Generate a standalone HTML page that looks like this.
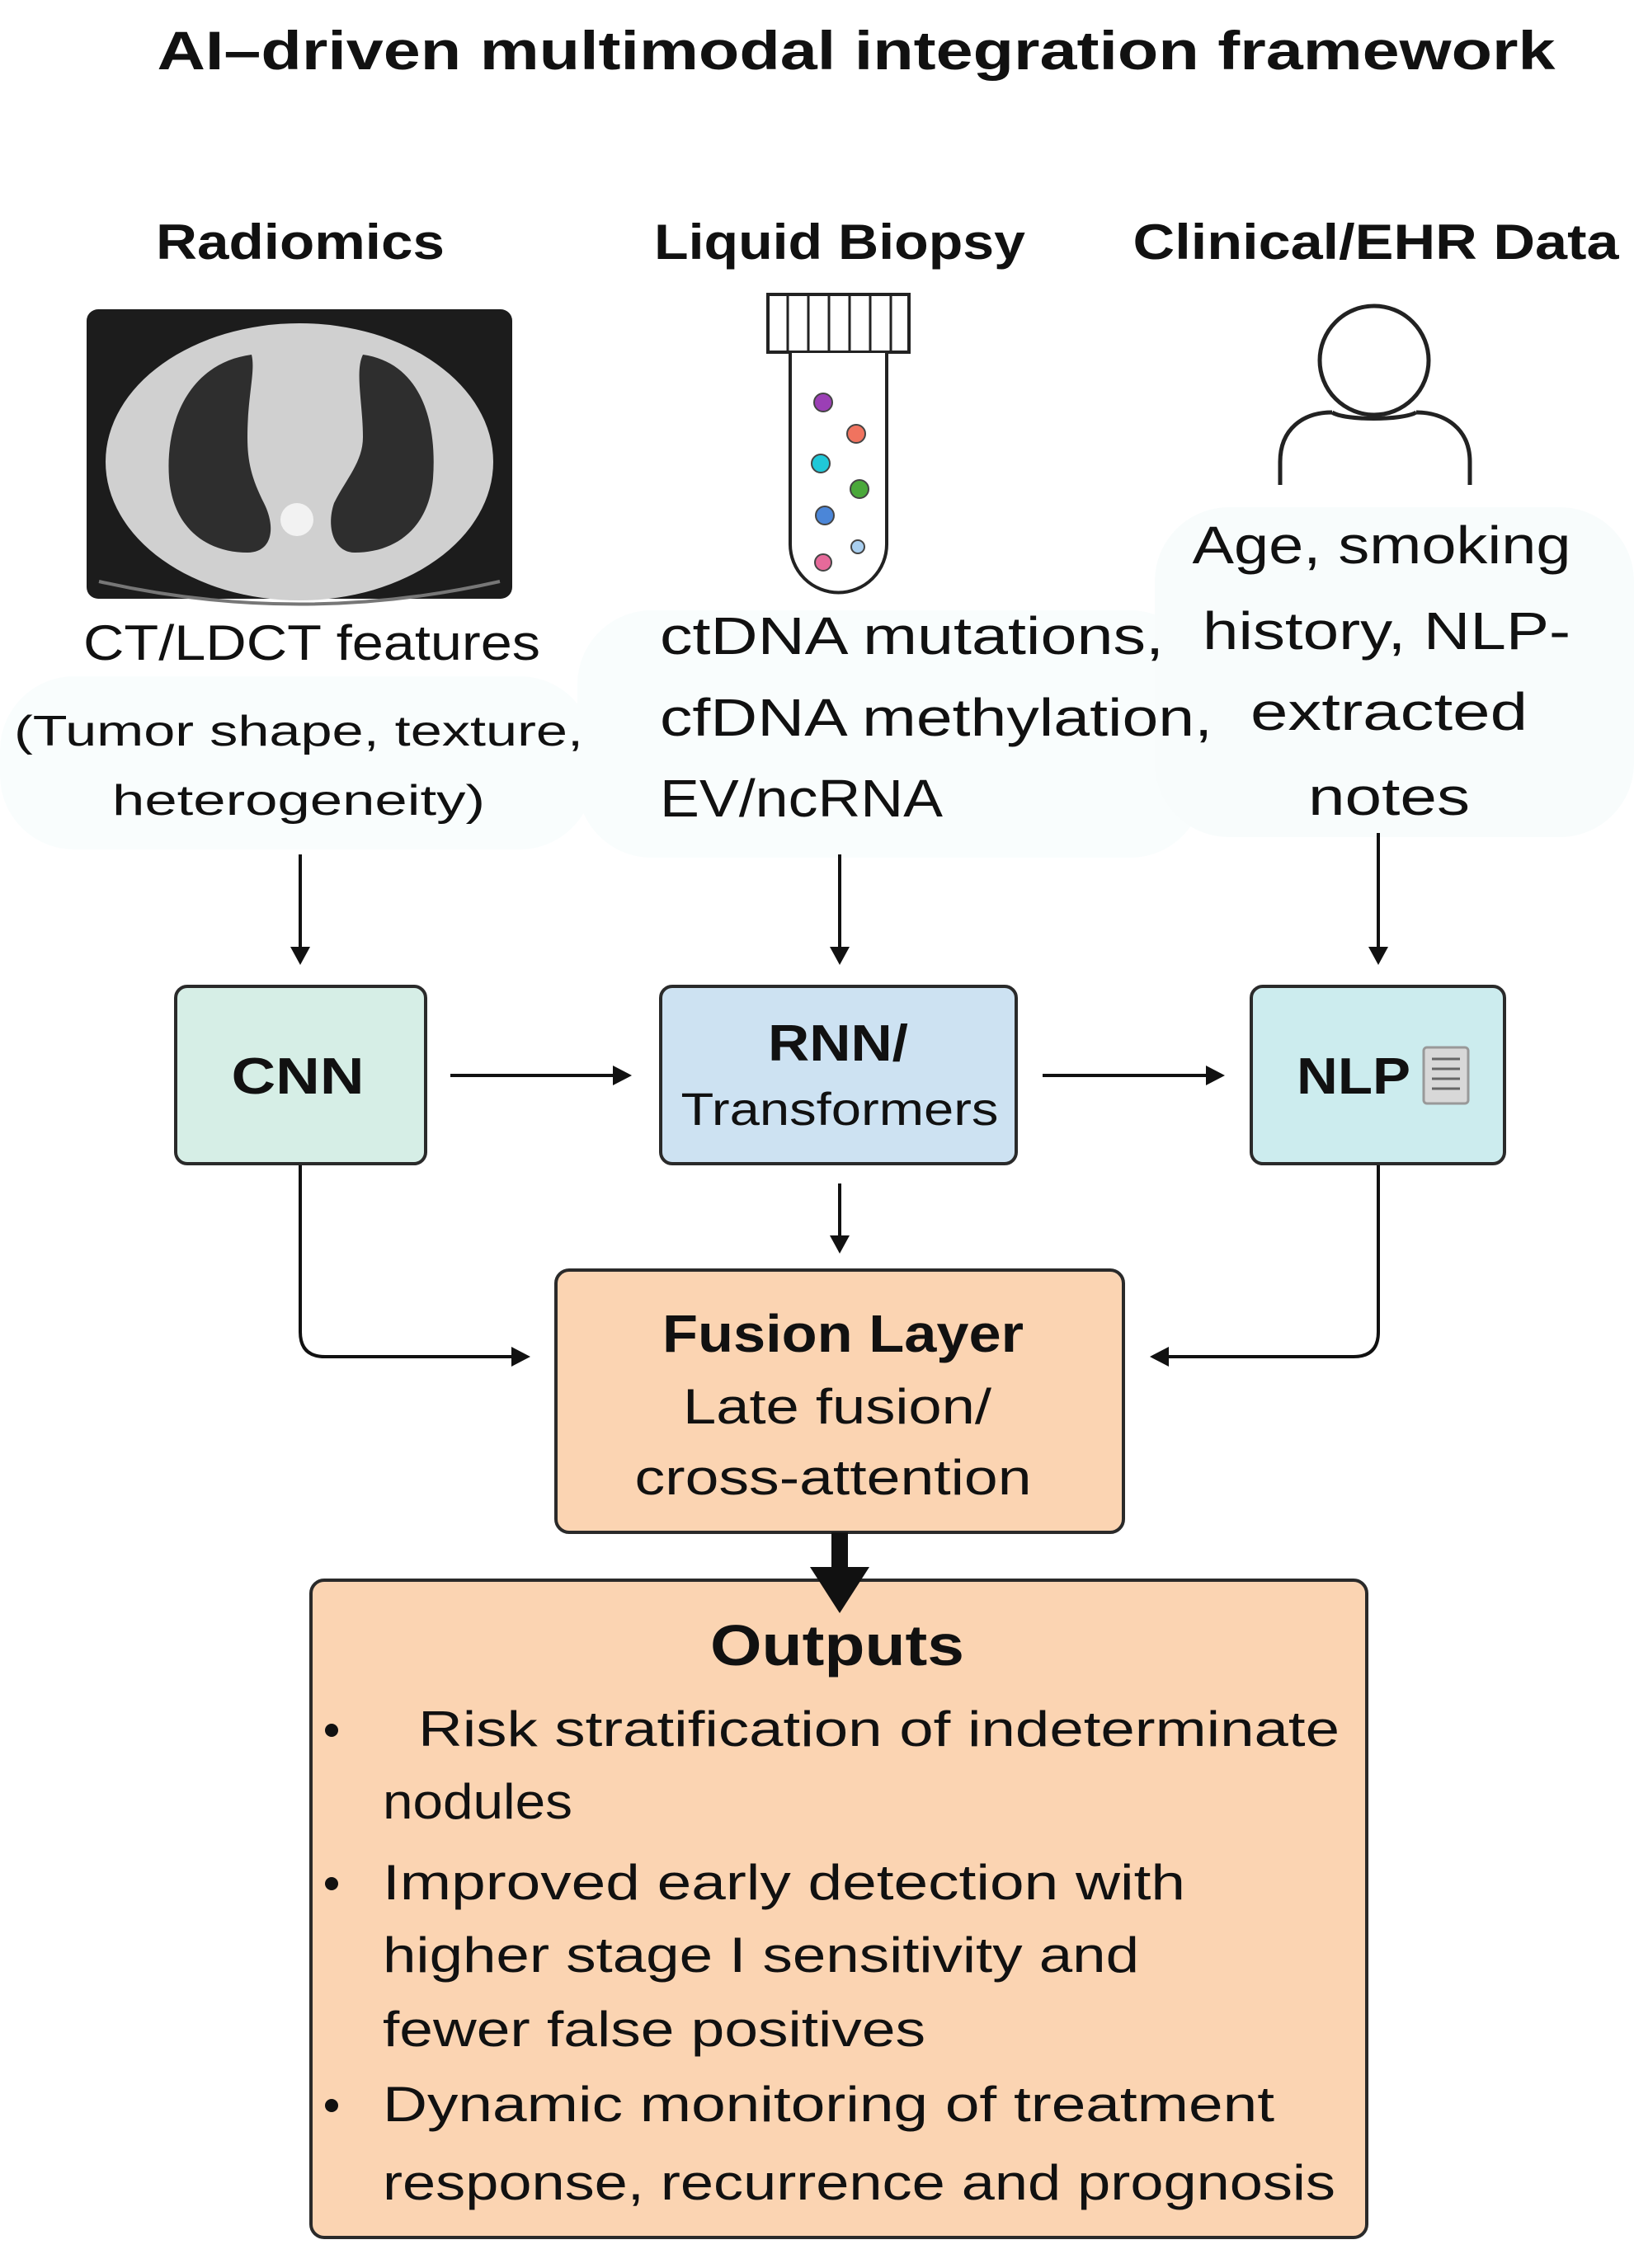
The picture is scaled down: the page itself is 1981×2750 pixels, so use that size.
<!DOCTYPE html>
<html><head><meta charset="utf-8"><style>
html,body{margin:0;padding:0;background:#fff;}
svg{display:block;}
text{font-family:"Liberation Sans",sans-serif;fill:#111;}
</style></head><body>
<svg width="1981" height="2750" viewBox="0 0 1981 2750" xmlns="http://www.w3.org/2000/svg">
<rect width="1981" height="2750" fill="#fff"/>
<!-- faint blobs -->
<rect x="0" y="820" width="720" height="210" rx="90" fill="#f9fdfd"/>
<rect x="700" y="740" width="760" height="300" rx="90" fill="#f9fdfd"/>
<rect x="1400" y="615" width="581" height="400" rx="90" fill="#f8fcfc"/>

<text x="1038" y="84" font-size="66" font-weight="bold" text-anchor="middle" textLength="1695" lengthAdjust="spacingAndGlyphs">AI–driven multimodal integration framework</text>

<text x="364" y="314" font-size="60" font-weight="bold" text-anchor="middle" textLength="350" lengthAdjust="spacingAndGlyphs">Radiomics</text>
<text x="1018" y="314" font-size="60" font-weight="bold" text-anchor="middle" textLength="450" lengthAdjust="spacingAndGlyphs">Liquid Biopsy</text>
<text x="1668" y="314" font-size="60" font-weight="bold" text-anchor="middle" textLength="589" lengthAdjust="spacingAndGlyphs">Clinical/EHR Data</text>

<!-- CT image -->
<rect x="105" y="375" width="516" height="351" rx="14" fill="#1c1c1c"/>
<ellipse cx="363" cy="560" rx="235" ry="168" fill="#d0d0d0"/>
<path d="M305 430 C230 440 200 510 205 580 C210 640 250 670 300 670 C330 670 335 640 320 610 C305 580 300 560 300 530 C300 480 310 450 305 430 Z" fill="#2e2e2e"/>
<path d="M440 430 C510 440 530 510 525 580 C520 640 480 670 430 670 C405 670 395 640 405 610 C420 580 440 560 440 530 C440 490 430 450 440 430 Z" fill="#2e2e2e"/>
<circle cx="360" cy="630" r="20" fill="#f2f2f2"/>
<path d="M120 705 Q363 760 606 705" stroke="#777" stroke-width="4" fill="none"/>

<!-- tube -->
<rect x="931" y="357" width="171" height="70" fill="#fff" stroke="#222" stroke-width="4"/>
<g stroke="#222" stroke-width="3">
<line x1="955" y1="357" x2="955" y2="427"/><line x1="980" y1="357" x2="980" y2="427"/><line x1="1005" y1="357" x2="1005" y2="427"/><line x1="1030" y1="357" x2="1030" y2="427"/><line x1="1055" y1="357" x2="1055" y2="427"/><line x1="1080" y1="357" x2="1080" y2="427"/>
</g>
<path d="M958 428 L958 660 A58 58 0 0 0 1075 660 L1075 428" fill="#fff" stroke="#222" stroke-width="4"/>
<g stroke="#444" stroke-width="2">
<circle cx="998" cy="488" r="11" fill="#9b3fb5"/>
<circle cx="1038" cy="526" r="11" fill="#f0735f"/>
<circle cx="995" cy="562" r="11" fill="#20c8d8"/>
<circle cx="1042" cy="593" r="11" fill="#4aa83a"/>
<circle cx="1000" cy="625" r="11" fill="#4b86d8"/>
<circle cx="1040" cy="663" r="8" fill="#a9cff0"/>
<circle cx="998" cy="682" r="10" fill="#e66a9a"/>
</g>

<!-- person -->
<circle cx="1666" cy="437" r="66" fill="none" stroke="#222" stroke-width="5"/>
<path d="M1552 588 L1552 560 C1552 520 1580 500 1615 500 M1717 500 C1752 500 1782 520 1782 560 L1782 588" fill="none" stroke="#222" stroke-width="5"/>
<path d="M1615 500 C1630 510 1700 510 1717 500" fill="none" stroke="#222" stroke-width="5"/>

<!-- input texts -->
<text x="378" y="800" font-size="60" text-anchor="middle" textLength="554" lengthAdjust="spacingAndGlyphs">CT/LDCT features</text>
<text x="362" y="904" font-size="52" text-anchor="middle" textLength="690" lengthAdjust="spacingAndGlyphs">(Tumor shape, texture,</text>
<text x="362" y="988" font-size="52" text-anchor="middle" textLength="452" lengthAdjust="spacingAndGlyphs">heterogeneity)</text>

<text x="800" y="793" font-size="64" textLength="611" lengthAdjust="spacingAndGlyphs">ctDNA mutations,</text>
<text x="800" y="892" font-size="64" textLength="670" lengthAdjust="spacingAndGlyphs">cfDNA methylation,</text>
<text x="800" y="990" font-size="64" textLength="343" lengthAdjust="spacingAndGlyphs">EV/ncRNA</text>

<text x="1675" y="683" font-size="64" text-anchor="middle" textLength="459" lengthAdjust="spacingAndGlyphs">Age, smoking</text>
<text x="1681" y="787" font-size="64" text-anchor="middle" textLength="446" lengthAdjust="spacingAndGlyphs">history, NLP-</text>
<text x="1684" y="885" font-size="64" text-anchor="middle" textLength="336" lengthAdjust="spacingAndGlyphs">extracted</text>
<text x="1684" y="988" font-size="64" text-anchor="middle" textLength="196" lengthAdjust="spacingAndGlyphs">notes</text>

<!-- arrows -->
<g stroke="#111" stroke-width="4" fill="none">
<line x1="364" y1="1036" x2="364" y2="1150"/>
<line x1="1018" y1="1036" x2="1018" y2="1150"/>
<line x1="1671" y1="1010" x2="1671" y2="1150"/>
<line x1="546" y1="1304" x2="745" y2="1304"/>
<line x1="1264" y1="1304" x2="1464" y2="1304"/>
<line x1="1018" y1="1435" x2="1018" y2="1500"/>
<path d="M364 1411 L364 1615 Q364 1645 394 1645 L622 1645"/>
<path d="M1671 1411 L1671 1615 Q1671 1645 1641 1645 L1415 1645"/>
</g>
<g fill="#111">
<polygon points="352,1148 376,1148 364,1170"/>
<polygon points="1006,1148 1030,1148 1018,1170"/>
<polygon points="1659,1148 1683,1148 1671,1170"/>
<polygon points="743,1292 743,1316 766,1304"/>
<polygon points="1462,1292 1462,1316 1485,1304"/>
<polygon points="1006,1498 1030,1498 1018,1520"/>
<polygon points="620,1633 620,1657 643,1645"/>
<polygon points="1417,1633 1417,1657 1394,1645"/>
</g>

<!-- model boxes -->
<rect x="213" y="1196" width="303" height="215" rx="14" fill="#d6eee6" stroke="#2a2a2a" stroke-width="4"/>
<rect x="801" y="1196" width="431" height="215" rx="14" fill="#cde2f2" stroke="#2a2a2a" stroke-width="4"/>
<rect x="1517" y="1196" width="307" height="215" rx="14" fill="#ccecee" stroke="#2a2a2a" stroke-width="4"/>
<text x="361" y="1326" font-size="62" font-weight="bold" text-anchor="middle" textLength="161" lengthAdjust="spacingAndGlyphs">CNN</text>
<text x="1016" y="1286" font-size="62" font-weight="bold" text-anchor="middle" textLength="170" lengthAdjust="spacingAndGlyphs">RNN/</text>
<text x="1018" y="1364" font-size="56" text-anchor="middle" textLength="385" lengthAdjust="spacingAndGlyphs">Transformers</text>
<text x="1572" y="1326" font-size="62" font-weight="bold" textLength="138" lengthAdjust="spacingAndGlyphs">NLP</text>
<rect x="1726" y="1270" width="54" height="68" rx="4" fill="#d8d8d8" stroke="#999" stroke-width="3"/>
<g stroke="#666" stroke-width="3"><line x1="1736" y1="1284" x2="1770" y2="1284"/><line x1="1736" y1="1296" x2="1770" y2="1296"/><line x1="1736" y1="1308" x2="1770" y2="1308"/><line x1="1736" y1="1320" x2="1770" y2="1320"/></g>

<!-- fusion -->
<rect x="674" y="1540" width="688" height="318" rx="16" fill="#fbd4b2" stroke="#2a2a2a" stroke-width="4"/>
<text x="1022" y="1639" font-size="64" font-weight="bold" text-anchor="middle" textLength="438" lengthAdjust="spacingAndGlyphs">Fusion Layer</text>
<text x="1015" y="1726" font-size="60" text-anchor="middle" textLength="374" lengthAdjust="spacingAndGlyphs">Late fusion/</text>
<text x="1010" y="1812" font-size="60" text-anchor="middle" textLength="481" lengthAdjust="spacingAndGlyphs">cross-attention</text>

<!-- outputs -->
<rect x="377" y="1916" width="1280" height="797" rx="16" fill="#fbd4b2" stroke="#2a2a2a" stroke-width="4"/>
<rect x="1008" y="1858" width="20" height="50" fill="#111"/>
<polygon points="982,1900 1054,1900 1018,1956" fill="#111"/>
<text x="1015" y="2019" font-size="70" font-weight="bold" text-anchor="middle" textLength="308" lengthAdjust="spacingAndGlyphs">Outputs</text>
<g font-size="60">
<text x="507" y="2117" textLength="1117" lengthAdjust="spacingAndGlyphs">Risk stratification of indeterminate</text>
<text x="464" y="2205" textLength="230" lengthAdjust="spacingAndGlyphs">nodules</text>
<text x="464" y="2303" textLength="973" lengthAdjust="spacingAndGlyphs">Improved early detection with</text>
<text x="464" y="2391" textLength="917" lengthAdjust="spacingAndGlyphs">higher stage I sensitivity and</text>
<text x="464" y="2481" textLength="658" lengthAdjust="spacingAndGlyphs">fewer false positives</text>
<text x="464" y="2572" textLength="1081" lengthAdjust="spacingAndGlyphs">Dynamic monitoring of treatment</text>
<text x="464" y="2667" textLength="1155" lengthAdjust="spacingAndGlyphs">response, recurrence and prognosis</text>
</g>
<g fill="#111">
<circle cx="402" cy="2098" r="8"/>
<circle cx="402" cy="2284" r="8"/>
<circle cx="402" cy="2553" r="8"/>
</g>
</svg>
</body></html>
